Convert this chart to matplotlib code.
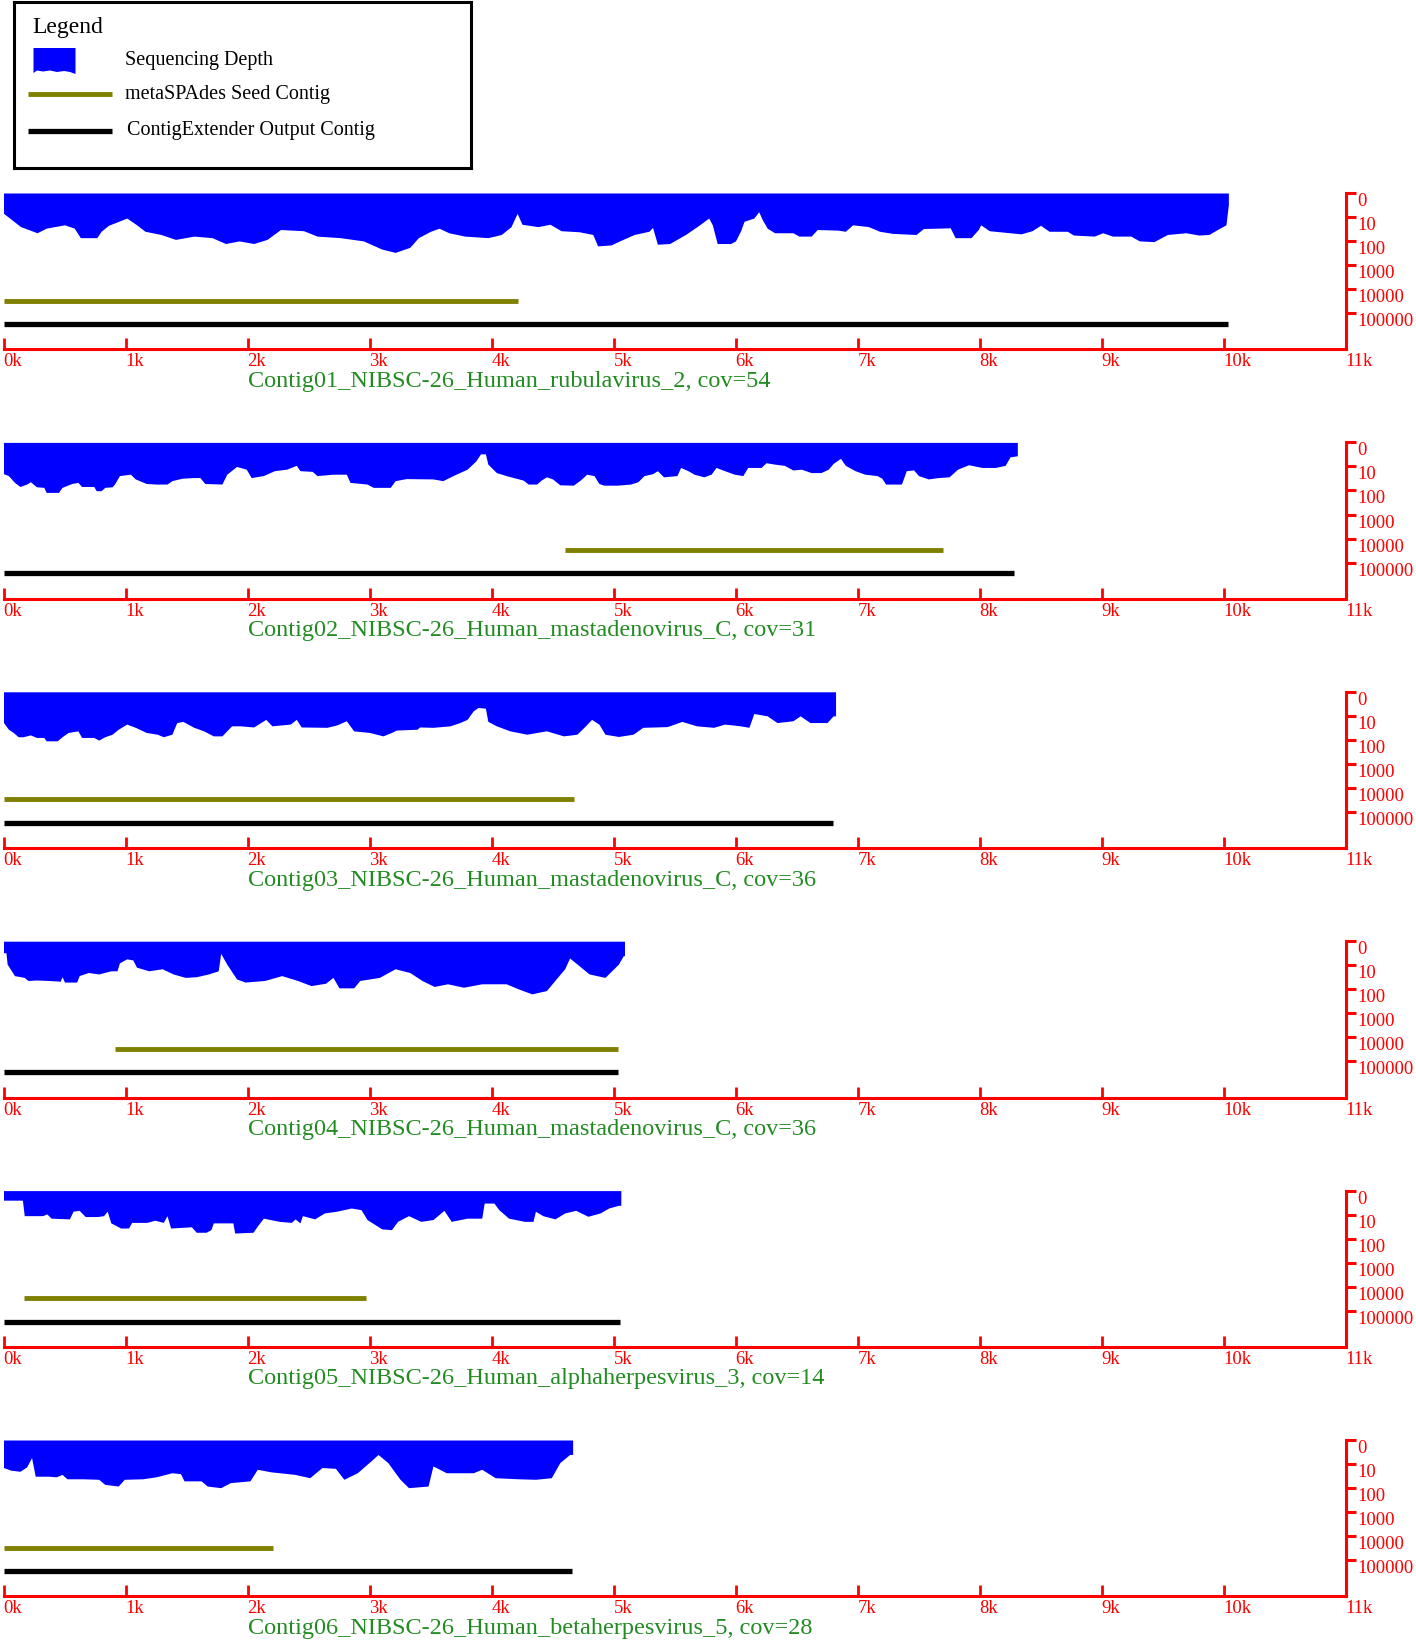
import numpy as np
import matplotlib.pyplot as plt
from matplotlib.patches import Polygon

plt.rcParams['font.family'] = ['Liberation Serif', 'DejaVu Serif']

W, H = 1416, 1644

# ---- data -------------------------------------------------------------
contig_names = [
    "Contig01_NIBSC-26_Human_rubulavirus_2",
    "Contig02_NIBSC-26_Human_mastadenovirus_C",
    "Contig03_NIBSC-26_Human_mastadenovirus_C",
    "Contig04_NIBSC-26_Human_mastadenovirus_C",
    "Contig05_NIBSC-26_Human_alphaherpesvirus_3",
    "Contig06_NIBSC-26_Human_betaherpesvirus_5",
]
coverages = [54, 31, 36, 36, 14, 28]
output_len = [10040, 8280, 6800, 5040, 5050, 4660]
seed_start = [0, 4600, 0, 910, 170, 0]
seed_end = [4220, 7700, 4680, 5040, 2970, 2210]

# sequencing depth profiles (position bp, depth reads)
pos_1 = [0, 50, 140, 275, 350, 500, 580, 630, 765, 800, 860, 930, 1010, 1085, 1160, 1290,
         1410, 1560, 1710, 1820, 1930, 2050, 2160, 2270, 2460, 2570, 2760, 2950, 3100, 3210,
         3330, 3400, 3500, 3570, 3650, 3780, 3970, 4080, 4160, 4210, 4250, 4380, 4480, 4570,
         4720, 4830, 4870, 4980, 5060, 5170, 5290, 5320, 5360, 5460, 5590, 5700, 5780, 5810,
         5850, 5960, 6000, 6040, 6070, 6150, 6190, 6220, 6260, 6320, 6470, 6520, 6620, 6670,
         6840, 6900, 6960, 7090, 7180, 7290, 7480, 7540, 7760, 7800, 7930, 7990, 8010, 8080,
         8340, 8430, 8500, 8570, 8720, 8770, 8940, 9010, 9090, 9240, 9310, 9430, 9480, 9540,
         9690, 9800, 9880, 9950, 10020, 10040]
depth_1 = [7, 11, 25, 45, 29, 21, 29, 72, 72, 39, 22, 16, 11, 20, 39, 53,
           85, 62, 72, 126, 98, 126, 85, 33, 37, 62, 72, 98, 214, 295,
           182, 72, 39, 29, 45, 62, 72, 53, 25, 7, 20, 25, 20, 37,
           41, 53, 158, 144, 93, 53, 39, 27, 135, 126, 53, 22, 11, 21,
           126, 126, 98, 39, 15, 11, 6, 13, 29, 45, 45, 62, 62, 33,
           35, 39, 21, 25, 39, 48, 53, 30, 28, 72, 72, 33, 21, 37,
           50, 37, 22, 39, 39, 56, 62, 45, 62, 62, 98, 105, 77, 53,
           45, 56, 53, 33, 21, 3]

pos_2 = [0, 40, 90, 135, 190, 220, 270, 330, 350, 450, 480, 560, 610, 640, 740, 760, 800,
         830, 890, 910, 950, 1040, 1080, 1170, 1250, 1340, 1380, 1460, 1555, 1610, 1650, 1790,
         1830, 1910, 1990, 2030, 2130, 2220, 2320, 2400, 2430, 2530, 2570, 2700, 2810, 2840,
         2980, 3030, 3170, 3210, 3300, 3520, 3600, 3700, 3800, 3870, 3910, 3950, 3970, 4040,
         4120, 4180, 4260, 4300, 4370, 4410, 4450, 4500, 4560, 4670, 4730, 4780, 4840, 4880,
         4920, 5030, 5140, 5200, 5250, 5320, 5360, 5410, 5520, 5550, 5610, 5660, 5740, 5800,
         5840, 5910, 5990, 6060, 6100, 6210, 6250, 6320, 6400, 6470, 6540, 6620, 6700, 6760,
         6800, 6860, 6900, 6980, 7060, 7160, 7200, 7230, 7360, 7400, 7460, 7500, 7580, 7660,
         7750, 7820, 7910, 8020, 8130, 8210, 8250, 8310]
depth_2 = [20, 24, 46, 68, 54, 43, 70, 74, 120, 120, 74, 51, 46, 68, 68, 102, 102,
           74, 70, 54, 24, 21, 33, 51, 54, 54, 39, 31, 29, 29, 51, 54,
           21, 10, 13, 29, 24, 15, 13, 9, 15, 16, 24, 21, 21, 46,
           54, 74, 74, 39, 32, 33, 39, 22, 13, 6, 3, 3, 8, 18,
           24, 29, 37, 54, 54, 36, 27, 33, 58, 60, 36, 21, 24, 51,
           60, 60, 54, 43, 24, 20, 15, 27, 24, 11, 15, 21, 27, 21,
           11, 15, 21, 24, 11, 11, 7, 8, 9, 14, 13, 18, 18, 13,
           7.5, 4.6, 9, 15, 21, 24, 31, 54, 54, 15, 14, 24, 33, 29,
           27, 13, 8.5, 11, 11, 9, 4, 3.6]

pos_3 = [0, 40, 80, 120, 160, 220, 270, 330, 350, 440, 480, 530, 610, 640, 740, 780, 830,
         890, 940, 1010, 1080, 1170, 1260, 1310, 1380, 1420, 1470, 1560, 1640, 1720, 1790,
         1830, 1870, 1940, 2050, 2150, 2200, 2350, 2400, 2440, 2650, 2730, 2810, 2870, 3000,
         3110, 3180, 3220, 3390, 3410, 3520, 3660, 3740, 3800, 3850, 3890, 3950, 3970, 4040,
         4150, 4290, 4370, 4450, 4590, 4700, 4770, 4820, 4880, 4930, 5040, 5160, 5240, 5440,
         5560, 5680, 5820, 5910, 6040, 6110, 6150, 6260, 6340, 6470, 6530, 6610, 6750, 6800,
         6820]
depth_3 = [19, 36, 49, 74, 74, 62, 79, 79, 109, 109, 74, 49, 42, 79, 79, 102, 74,
           58, 36, 22, 30, 49, 58, 74, 58, 19, 17, 30, 42, 68, 68,
           42, 26, 26, 29, 14, 26, 22, 14, 29, 30, 24, 16, 42, 49,
           68, 49, 39, 36, 29, 30, 26, 19, 14, 6.2, 4.5, 4.8, 17, 26,
           42, 58, 49, 42, 68, 58, 26, 14, 22, 58, 72, 58, 30, 28,
           17, 26, 30, 22, 26, 30, 8, 10, 19, 16, 10, 19, 19, 10,
           10]

pos_4 = [0, 20, 30, 50, 90, 170, 200, 270, 370, 465, 480, 500, 600, 620, 695, 780, 880,
         930, 950, 1010, 1060, 1090, 1190, 1300, 1390, 1490, 1580, 1680, 1760, 1780, 1830,
         1910, 1980, 2140, 2280, 2410, 2520, 2640, 2700, 2750, 2870, 2920, 3080, 3210, 3330,
         3430, 3530, 3640, 3770, 3920, 4120, 4220, 4330, 4450, 4540, 4600, 4640, 4690, 4800,
         4930, 5040, 5080, 5090]
depth_4 = [3, 3, 9, 13, 27, 32, 43, 41, 43, 46, 30, 50, 50, 27, 20, 23, 17,
           17, 8, 5.4, 6, 12, 17, 14, 23, 32, 30, 23, 17, 3.2, 9,
           37, 50, 43, 27, 43, 70, 56, 32, 87, 87, 43, 32, 14, 20,
           43, 76, 59, 82, 59, 59, 96, 155, 113, 32, 14, 5, 8, 23,
           32, 9, 4, 4]

pos_5 = [0, 155, 170, 320, 355, 390, 540, 570, 620, 670, 770, 820, 850, 880, 960, 1025,
         1050, 1175, 1240, 1310, 1340, 1370, 1540, 1580, 1660, 1700, 1720, 1880, 1895, 2045,
         2080, 2130, 2260, 2360, 2390, 2430, 2450, 2550, 2630, 2730, 2850, 2930, 2980, 3100,
         3180, 3230, 3320, 3420, 3520, 3610, 3670, 3800, 3920, 3940, 4020, 4060, 4140, 4270,
         4340, 4360, 4420, 4520, 4600, 4690, 4790, 4890, 4960, 5040, 5060]
depth_5 = [2.5, 2.5, 11, 11, 9.3, 14, 15, 7.2, 6.6, 12, 12, 11, 7.2, 22, 36, 36,
           21, 21, 17, 21, 11, 36, 32, 54, 54, 42, 22, 22, 58, 54,
           30, 14, 19, 21, 15, 22, 11, 15, 8.5, 7.2, 5.3, 6.2, 16, 39,
           42, 19, 11, 19, 16, 6.6, 19, 14, 14, 3.3, 3.3, 6.2, 14, 19,
           19, 7.2, 11, 15, 8.5, 6.6, 11.7, 8.5, 5.3, 4.1, 4.1]

pos_6 = [0, 60, 135, 190, 230, 260, 370, 430, 480, 520, 650, 780, 830, 940, 990, 1140,
         1250, 1380, 1450, 1480, 1620, 1670, 1780, 1860, 2020, 2080, 2190, 2390, 2510, 2610,
         2720, 2790, 2900, 3010, 3070, 3150, 3250, 3320, 3480, 3520, 3630, 3850, 3920, 4030,
         4220, 4360, 4490, 4560, 4640, 4665]
depth_6 = [14, 18, 20, 13, 5.4, 32, 32, 34, 27, 41, 41, 43, 70, 82, 43, 41,
           34, 23, 25, 50, 50, 82, 96, 59, 50, 16.5, 21, 27, 37, 14,
           15, 43, 23, 7.5, 4, 8.7, 43, 96, 82, 12, 23, 23, 16.5, 37,
           41, 43, 37, 8.7, 4, 4]

depth_pos = [pos_1, pos_2, pos_3, pos_4, pos_5, pos_6]
depth_vals = [depth_1, depth_2, depth_3, depth_4, depth_5, depth_6]

x_ticks = [0, 1000, 2000, 3000, 4000, 5000, 6000, 7000, 8000, 9000, 10000, 11000]
x_tick_labels = ['0k', '1k', '2k', '3k', '4k', '5k', '6k', '7k', '8k', '9k', '10k', '11k']
depth_ticks = [1, 10, 100, 1000, 10000, 100000]
depth_tick_labels = ['0', '10', '100', '1000', '10000', '100000']

# ---- layout ------------------------------------------------------------
top0 = 193.0        # pixel row of depth "0" in first panel
step = 249.4        # vertical distance between panels
unit = 24.05        # pixels per decade
u_axis = 6.5        # decades from top down to the red x axis
seed_row = 4.47
out_row = 5.45

fig = plt.figure(figsize=(W / 100, H / 100), dpi=100)

for i in range(6):
    top_px = top0 + i * step
    bot_px = top_px + u_axis * unit
    ax = fig.add_axes([3.5 / W, 1 - bot_px / H, 1342 / W, (bot_px - top_px) / H])
    ax.set_xlim(0, 11000)
    ax.set_ylim(u_axis, 0)

    x = np.array(depth_pos[i])
    u = np.log10(np.array(depth_vals[i], dtype=float))
    ax.fill_between(x, 0, u, color='#0000ff', lw=0)

    ax.plot([seed_start[i], seed_end[i]], [seed_row, seed_row], color='#808000',
            lw=3.5, solid_capstyle='butt')
    ax.plot([0, output_len[i]], [out_row, out_row], color='black',
            lw=3.8, solid_capstyle='butt')

    for side in ['left', 'top']:
        ax.spines[side].set_visible(False)
    for side in ['bottom', 'right']:
        ax.spines[side].set_color('red')
        ax.spines[side].set_linewidth(2.2)

    ax.set_xticks(x_ticks)
    ax.set_xticklabels(x_tick_labels)
    ax.tick_params(axis='x', direction='in', length=8, width=2, colors='red',
                   labelsize=13.5, pad=3)
    for lbl in ax.get_xticklabels():
        lbl.set_horizontalalignment('left')

    ax.yaxis.tick_right()
    ax.set_yticks(np.log10(depth_ticks))
    ax.set_yticklabels(depth_tick_labels)
    ax.tick_params(axis='y', direction='out', length=7, width=2.2, colors='red',
                   labelsize=13.5, pad=1.5)
    for lbl in ax.get_yticklabels():
        lbl.set_verticalalignment('top')

    ax.text(2000, -0.205, f"{contig_names[i]}, cov={coverages[i]}",
            transform=ax.get_xaxis_transform(), color='#228b22', fontsize=17.5,
            ha='left', va='center')

# ---- legend box --------------------------------------------------------
lx0, lx1, ly0, ly1 = 13.6, 470.5, 2.0, 167.7
leg = fig.add_axes([lx0 / W, 1 - ly1 / H, (lx1 - lx0) / W, (ly1 - ly0) / H])
leg.set_xlim(lx0, lx1)
leg.set_ylim(ly1, ly0)
leg.set_xticks([])
leg.set_yticks([])
for s in leg.spines.values():
    s.set_linewidth(2.2)
    s.set_color('black')

leg.text(32.5, 28, 'Legend', fontsize=17, va='center', ha='left')
leg.add_patch(Polygon([(33.5, 48), (75.5, 48), (75.5, 74), (70, 72), (64, 71), (57, 72),
                       (50, 70.5), (43, 71.5), (37, 70.5), (33.5, 73)],
                      closed=True, color='#0000ff', lw=0))
leg.text(124.7, 61, 'Sequencing Depth', fontsize=14.5, va='center', ha='left')
leg.plot([28, 112], [94, 94], color='#808000', lw=3.5, solid_capstyle='butt')
leg.text(124.7, 94.5, 'metaSPAdes Seed Contig', fontsize=14.5, va='center', ha='left')
leg.plot([28, 112], [131, 131], color='black', lw=3.8, solid_capstyle='butt')
leg.text(126.8, 130.5, 'ContigExtender Output Contig', fontsize=14.5, va='center', ha='left')

fig.savefig('out.png', dpi=100)
